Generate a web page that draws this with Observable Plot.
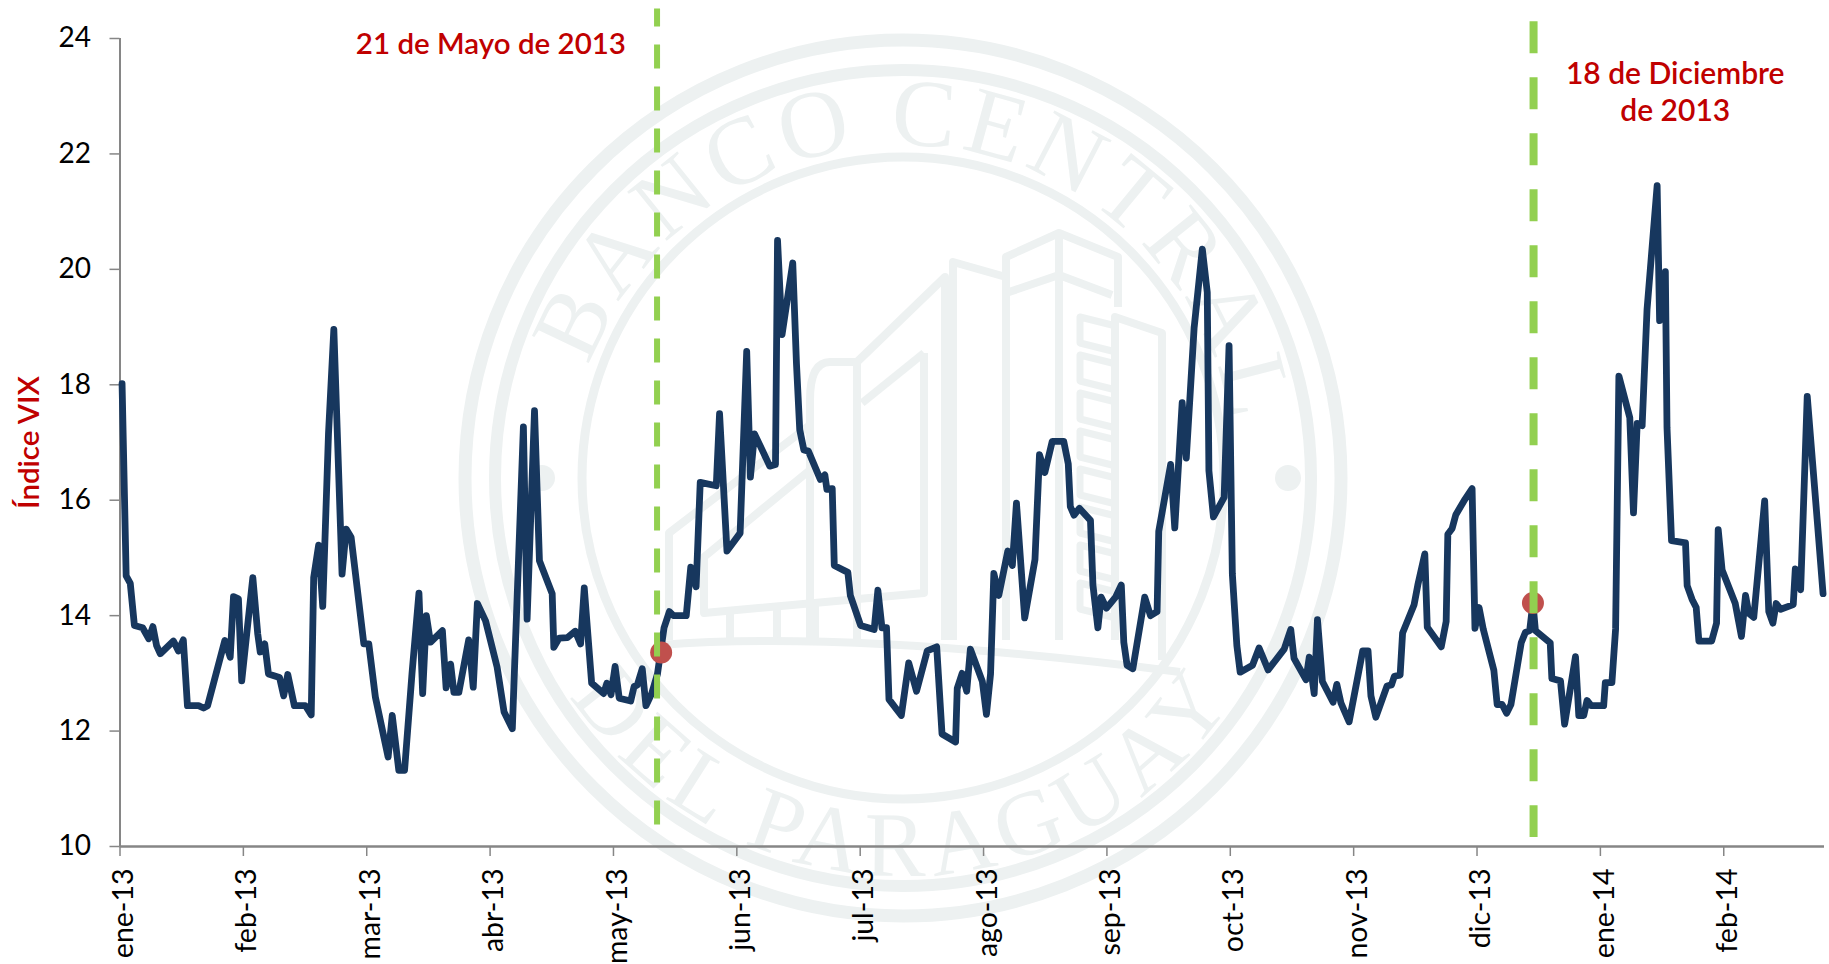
<!DOCTYPE html>
<html lang="es">
<head>
<meta charset="utf-8">
<title>Índice VIX</title>
<script src="https://cdn.jsdelivr.net/npm/d3@7"></script>
<script src="https://cdn.jsdelivr.net/npm/@observablehq/plot@0.6"></script>
<style>
  html, body { margin: 0; padding: 0; background: #fff; overflow: hidden; }
</style>
</head>
<body>
<div id="chart"></div>
<script>
const tickLabels = ["ene-13","feb-13","mar-13","abr-13","may-13","jun-13","jul-13","ago-13","sep-13","oct-13","nov-13","dic-13","ene-14","feb-14"];
const yTicks = [10,12,14,16,18,20,22,24];

// posición en el eje (observaciones) y valor del índice
const posicion = [
  0,1,2,3,5,6.5,7.5,8.4,9.3,12.5,
  13.7,14.9,15.9,18.6,19.8,20.8,22.4,25,26.3,27.1,
  28.3,29.1,30.4,31.8,33,33.6,34.7,35.6,38.3,39.3,
  40.3,41.9,44.6,46,46.6,47.8,48.8,50.2,51.5,53.5,
  54.5,55.7,58.8,60,61.6,64.7,65.7,67.3,68.7,70.5,
  72.2,73.1,74,75,77.9,78.8,79.9,80.7,81.9,84.3,
  85.4,86.4,88.4,91.2,92.9,94.9,97.6,98.5,100.3,101.5,
  104.6,105,106.3,108.3,110.2,111.5,112.4,114.2,117.1,117.9,
  118.9,119.9,120.9,123.7,124.5,125.3,126.5,127.4,128.8,130.2,
  131.8,133.1,134.1,137.2,138.3,139.6,140.6,144.5,145.3,147.1,
  150.3,151.9,152.8,153.8,156,157.5,158.9,159.4,160.5,163.1,
  164,164.8,165.8,166.9,169.8,170.9,171.4,172.7,173.2,176.5,
  177.1,179.6,182.9,183.8,184.8,185.9,186.5,189.5,191.3,193.2,
  195.8,198.1,199.4,202.7,203.1,204.3,205.4,206.3,209.2,210.2,
  211.2,212,213.2,215.4,216.5,217.5,219.5,222,223.1,224.4,
  226.2,229,230.1,230.6,231.5,232.8,235.5,236.1,237.3,238.1,
  239.4,241.6,243,243.6,244.4,245.8,248.7,250.1,251.7,252.1,
  255,256,257.8,258.8,260.7,262.7,263.9,264.3,265.4,268,
  269.2,270,271.1,271.9,274.9,276.5,278.7,282.6,284.2,285,
  287.9,288.7,289.9,290.7,291.9,294.5,295.4,296.4,298.4,301.7,
  303,303.7,304.9,307.6,308.7,309.4,310.8,311.4,314.2,315.1,
  316.8,317.4,320.8,322,322.4,323.45,324.35,326.6,328.3,329,
  330,331,333.6,334.4,335.6,336.7,337.75,340.25,341.25,342.3,
  343.1,343.7,347.3,347.7,349.8,350.8,353.45,354.25,355.45,356.25,
  357.25,360.3,360.7,362.3,363.2,364,366.65,367.55,368.45,369.65,
  370.85,373.3,373.9,375.3,375.7,376.8,380.2,380.6,381.8,382.8,
  383.45,386.55,387.75,388.15,389.1,392.3,393.8,394.8,395.6,396.8,
  399.45,400.45,401.45,402.25,403.35,406.4,406.9,408.2,409.8,412.2,
  413.65
];
const vix = [
  18.02,14.69,14.56,13.83,13.79,13.60,13.81,13.48,13.34,13.56,
  13.39,13.58,12.44,12.44,12.40,12.44,12.87,13.57,13.28,14.33,
  14.29,12.87,13.74,14.66,13.68,13.37,13.51,12.99,12.93,12.61,
  12.98,12.44,12.44,12.28,14.66,15.22,14.16,17.15,18.96,14.72,
  15.5,15.36,13.51,13.51,12.59,11.55,12.27,11.32,11.32,12.99,
  14.39,12.65,14.0,13.54,13.74,12.75,13.16,12.67,12.67,13.58,
  12.76,14.21,13.91,13.11,12.33,12.04,17.27,13.94,17.55,14.95,
  14.38,13.45,13.61,13.62,13.73,13.51,14.48,12.83,12.65,12.83,
  12.63,13.12,12.57,12.52,12.77,12.80,13.08,12.44,12.65,12.99,
  13.79,14.07,14.0,14.0,14.84,14.5,16.31,16.25,17.5,15.12,
  15.43,18.58,16.4,17.15,16.82,16.59,16.62,20.5,18.87,20.11,
  18.37,17.22,16.87,16.85,16.36,16.44,16.19,16.2,14.87,14.75,
  14.35,13.83,13.76,14.44,13.79,13.79,12.55,12.27,13.18,12.69,
  13.39,13.46,11.95,11.81,12.74,13.0,12.69,13.42,12.86,12.29,
  12.99,14.73,14.35,15.12,14.87,15.95,13.96,14.97,16.79,16.48,
  17.02,17.02,16.63,15.89,15.74,15.86,15.65,14.53,13.79,14.32,
  14.13,14.32,14.53,13.54,13.14,13.08,14.32,14.0,14.07,15.46,
  16.62,15.52,17.69,16.73,18.98,20.35,19.6,16.51,15.71,16.05,
  18.68,14.72,13.48,13.02,13.14,13.44,13.06,13.42,13.76,13.26,
  12.89,13.28,12.65,13.93,12.86,12.5,12.81,12.49,12.16,13.39,
  13.39,12.61,12.24,12.78,12.8,12.95,12.97,13.7,14.19,14.53,
  15.07,13.8,13.46,13.9,15.41,15.51,15.75,16.02,16.2,13.78,
  14.14,13.77,13.05,12.46,12.46,12.31,12.46,13.53,13.71,13.74,
  14.22,13.74,13.53,12.91,12.87,12.12,13.29,12.27,12.27,12.53,
  12.44,12.44,12.84,12.84,13.77,18.15,17.43,15.78,17.33,17.29,
  19.31,21.45,19.11,19.96,17.26,15.3,15.26,14.52,14.28,14.14,
  13.56,13.56,13.87,15.49,14.79,14.21,13.64,14.35,14.04,13.97,
  15.99,14.07,13.87,14.21,14.11,14.19,14.81,14.45,17.8,15.68,
  14.38
];
const puntosX = [131.6, 343.6];
const puntosY = [13.36, 14.22];

const FONT = "Lato, 'Noto Sans', sans-serif";
const RED = "#c00000";
const GREEN = "#92d050";
const NAVY = "#17375e";
const GRAY = "#868686";
const SEAL = "#edf1f1";

const rows = posicion.map((d, i) => ({d: d + 0.5, v: vix[i]}));
const puntos = puntosX.map((d, i) => ({d, v: puntosY[i]}));

// marca de agua: sello del banco, decoración de fondo
function sello() {
  const cx = 903, cy = 478;
  const g = d3.create("svg:g").attr("fill", "none").attr("stroke", SEAL);
  [[438, 13], [408, 12], [321, 9]].forEach(([r, w]) =>
    g.append("circle").attr("cx", cx).attr("cy", cy).attr("r", r).attr("stroke-width", w));
  g.append("circle").attr("cx", 542).attr("cy", 478).attr("r", 13).attr("fill", SEAL).attr("stroke", "none");
  g.append("circle").attr("cx", 1288).attr("cy", 478).attr("r", 13).attr("fill", SEAL).attr("stroke", "none");
  const defs = g.append("defs");
  defs.append("path").attr("id", "arcSup").attr("d", `M${cx-333},${cy}A333,333 0 0 1 ${cx+333},${cy}`);
  defs.append("path").attr("id", "arcInf").attr("d", `M${cx-398},${cy}A398,398 0 0 0 ${cx+398},${cy}`);
  [["arcSup", "BANCO CENTRAL", 96, 6, "53%"], ["arcInf", "DEL PARAGUAY", 92, 8, "50%"]].forEach(([id, s, fs, ls, off]) =>
    g.append("text").attr("fill", SEAL).attr("stroke", "none")
      .attr("font-family", "'Liberation Serif', serif").attr("font-size", fs).attr("letter-spacing", ls)
      .append("textPath").attr("href", "#" + id).attr("startOffset", off).attr("text-anchor", "middle").text(s));
  const b = g.append("g").attr("stroke-width", 8).attr("stroke-linejoin", "round");
  [
    "M1006,640V257L1059,233L1118,257V307",
    "M1006,293L1059,275L1112,295",
    "M1059,233V640",
    "M953,640V262L1006,277",
    "M945,640V277L857,362V640",
    "M857,362H830Q810,362 810,400V640",
    "M924,353L862,403",
    "M924,353V593L704,613V557L810,470",
    "M669,640V533L810,425",
    "M730,613V640M777,608V640M815,604V640",
    "M1115,640V317L1162,333V660",
    "M660,645Q850,630 1180,672"
  ].forEach(d => b.append("path").attr("d", d));
  d3.range(8).forEach(i => {
    const y = 325 + i * 38;
    b.append("path").attr("stroke-width", 7).attr("d", `M1112,${y}L1080,${y-8}V${y+18}L1112,${y+26}`);
  });
  return g.node();
}

const plot = Plot.plot({
  width: 1829,
  height: 964,
  marginLeft: 119.5,
  marginRight: 5,
  marginTop: 38,
  marginBottom: 118,
  style: {fontFamily: FONT, background: "#fff", overflow: "hidden"},
  x: {domain: [0, 414.5]},
  y: {domain: [10, 24]},
  marks: [
    sello,
    Plot.ruleX([0], {stroke: GRAY, strokeWidth: 2, y1: 10, y2: 24}),
    Plot.ruleY([10], {stroke: GRAY, strokeWidth: 2.5}),
    Plot.axisY({
      ticks: yTicks, tickSize: 10, tickPadding: 19, label: null,
      fontSize: 28, stroke: GRAY, strokeWidth: 1.5, fill: "#000", color: "#000",
      tickFormat: d => String(d)
    }),
    Plot.axisX({
      ticks: tickLabels.map((_, i) => i * 30), tickSize: 10, label: null,
      stroke: GRAY, strokeWidth: 1.5, tickFormat: () => ""
    }),
    Plot.axisX({
      ticks: tickLabels.map((_, i) => i * 30), tickSize: 0, tickPadding: 22, label: null,
      tickRotate: -90, fontSize: 28.5, fill: "#000", stroke: "none",
      tickFormat: d => tickLabels[d / 30], textStroke: "none", dx: 4
    }),
    Plot.line(rows, {x: "d", y: "v", stroke: NAVY, strokeWidth: 6.8, strokeLinejoin: "round", strokeLinecap: "round"}),
    Plot.dot(puntos, {x: "d", y: "v", r: 11, fill: "#c0504d", stroke: "none"}),
    Plot.ruleX([130.6], {y1: 24.51, y2: 10.36, stroke: GREEN, strokeWidth: 6, strokeDasharray: "24,18", strokeDashoffset: 6}),
    Plot.ruleX([343.75], {y1: 24.29, y2: 10.156, stroke: GREEN, strokeWidth: 8, strokeDasharray: "32,24"}),
    Plot.text(["21 de Mayo de 2013"], {x: [90.2], y: [23.9], fill: RED, fontSize: 29.5, fontWeight: 600, textAnchor: "middle"}),
    Plot.text(["18 de Diciembre\nde 2013"], {x: [378.2], y: [23.09], fill: RED, fontSize: 30, fontWeight: 600, textAnchor: "middle", lineHeight: 1.23}),
    Plot.text(["Índice VIX"], {x: [-21.9], y: [17], rotate: -90, fill: RED, fontSize: 29.5, fontWeight: 600, textAnchor: "middle"})
  ]
});
document.getElementById("chart").appendChild(plot);
</script>
</body>
</html>
